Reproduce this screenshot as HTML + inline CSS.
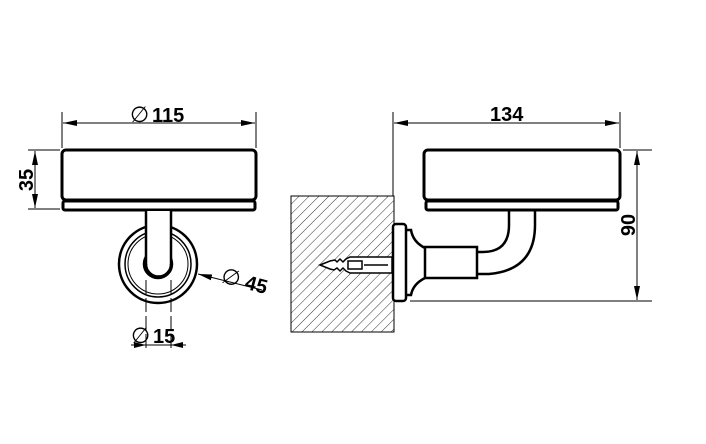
<!DOCTYPE html>
<html><head><style>body{margin:0;background:#fff}svg{display:block}text{font-family:"Liberation Sans",sans-serif;font-weight:bold;font-size:20px;fill:#000}.o{font-weight:normal;font-size:22px}</style></head>
<body>
<svg width="706" height="444" viewBox="0 0 706 444">
<defs>
<marker id="a" markerWidth="14" markerHeight="8" refX="14" refY="4" orient="auto-start-reverse" markerUnits="userSpaceOnUse"><path d="M0,1 L14,4 L0,7z" fill="#000"/></marker>
<pattern id="h" width="7" height="7" patternUnits="userSpaceOnUse" patternTransform="rotate(45)"><line x1="0" y1="0" x2="0" y2="7" stroke="#000" stroke-width="0.8"/></pattern>
<clipPath id="c"><rect x="291" y="196" width="103" height="136"/></clipPath>
</defs>
<g stroke="#000" fill="none">
<line x1="62" y1="112" x2="62" y2="148" stroke-width="1"/>
<line x1="256" y1="112" x2="256" y2="148" stroke-width="1"/>
<line x1="63" y1="123" x2="255" y2="123" marker-start="url(#a)" marker-end="url(#a)" stroke-width="1"/>
<rect x="62" y="150" width="194" height="50" rx="4" stroke-width="3"/>
<rect x="63" y="201" width="192" height="9" rx="2" stroke-width="3"/>
<line x1="28" y1="150" x2="60" y2="150" stroke-width="1"/>
<line x1="28" y1="209" x2="60" y2="209" stroke-width="1"/>
<line x1="35" y1="151" x2="35" y2="208" marker-start="url(#a)" marker-end="url(#a)" stroke-width="1"/>
<circle cx="158" cy="264" r="39" stroke-width="2.5"/>
<circle cx="158" cy="264" r="33" stroke-width="1.5"/>
<circle cx="158" cy="264" r="30" stroke-width="1"/>
<circle cx="158" cy="264" r="14" stroke-width="2.5"/>
<rect x="146" y="211" width="25" height="55" fill="#fff" stroke="none"/>
<line x1="146" y1="211" x2="146" y2="265" stroke-width="2.5"/>
<line x1="171" y1="211" x2="171" y2="265" stroke-width="2.5"/>
<path d="M146,264 A12.5,12.5 0 0 0 171,264" stroke-width="2.5"/>
<line x1="262" y1="290" x2="198" y2="274" marker-end="url(#a)" stroke-width="1"/>
<line x1="146" y1="280" x2="146" y2="350" stroke-width="1" stroke-dasharray="14,4"/>
<line x1="171" y1="280" x2="171" y2="350" stroke-width="1" stroke-dasharray="14,4"/>
<line x1="131" y1="345" x2="186" y2="345" stroke-width="1"/>
<path d="M146,345 l-12,-3 v6z M171,345 l12,-3 v6z" fill="#000" stroke="none"/>
<rect x="291" y="196" width="103" height="136" fill="url(#h)" stroke-width="1"/>
<line x1="393" y1="112" x2="393" y2="196" stroke-width="1"/>
<line x1="620" y1="112" x2="620" y2="148" stroke-width="1"/>
<line x1="394" y1="123" x2="619" y2="123" marker-start="url(#a)" marker-end="url(#a)" stroke-width="1"/>
<rect x="424" y="150" width="196" height="50" rx="4" stroke-width="3"/>
<rect x="426" y="201" width="192" height="9" rx="2" stroke-width="3"/>
<line x1="623" y1="150" x2="652" y2="150" stroke-width="1"/>
<line x1="410" y1="301" x2="652" y2="301" stroke-width="1"/>
<line x1="637" y1="151" x2="637" y2="300" marker-start="url(#a)" marker-end="url(#a)" stroke-width="1"/>
<rect x="393" y="224" width="13" height="77" rx="3" fill="#fff" stroke-width="2.5"/>
<path d="M406,230 H411 Q413,242 425,248 M406,295 H411 Q413,284 425,278" stroke-width="2.5"/>
<rect x="425" y="247" width="52" height="31" fill="#fff" stroke-width="2.5"/>
<path d="M477,252 H483 Q509,252 509,225 V211 M477,274 H489 Q535,270 535,225 V211" stroke-width="2.5"/>
<g clip-path="url(#c)">
<path d="M320,265 L330,261 L335,260 L337,262 L340,259 L343,262 L346,259 L350,257 H392 V273 H350 L346,271 L343,268 L340,271 L337,268 L334,270 L330,269z" fill="#fff" stroke-width="1.5"/>
<rect x="348" y="261" width="14" height="8" stroke-width="1.5"/>
<line x1="364" y1="265" x2="388" y2="265" stroke-width="1.5"/>
</g>
</g>
<text class="o" x="130" y="122">∅</text><text x="152" y="122">115</text>
<text x="490" y="121">134</text>
<text transform="translate(33,180) rotate(-90)" text-anchor="middle">35</text>
<text transform="translate(635,225) rotate(-90)" text-anchor="middle">90</text>
<text transform="translate(220,282) rotate(15)"><tspan class="o">∅</tspan> 45</text>
<text class="o" x="131" y="343">∅</text><text x="153" y="343">15</text>
</svg>
</body></html>
